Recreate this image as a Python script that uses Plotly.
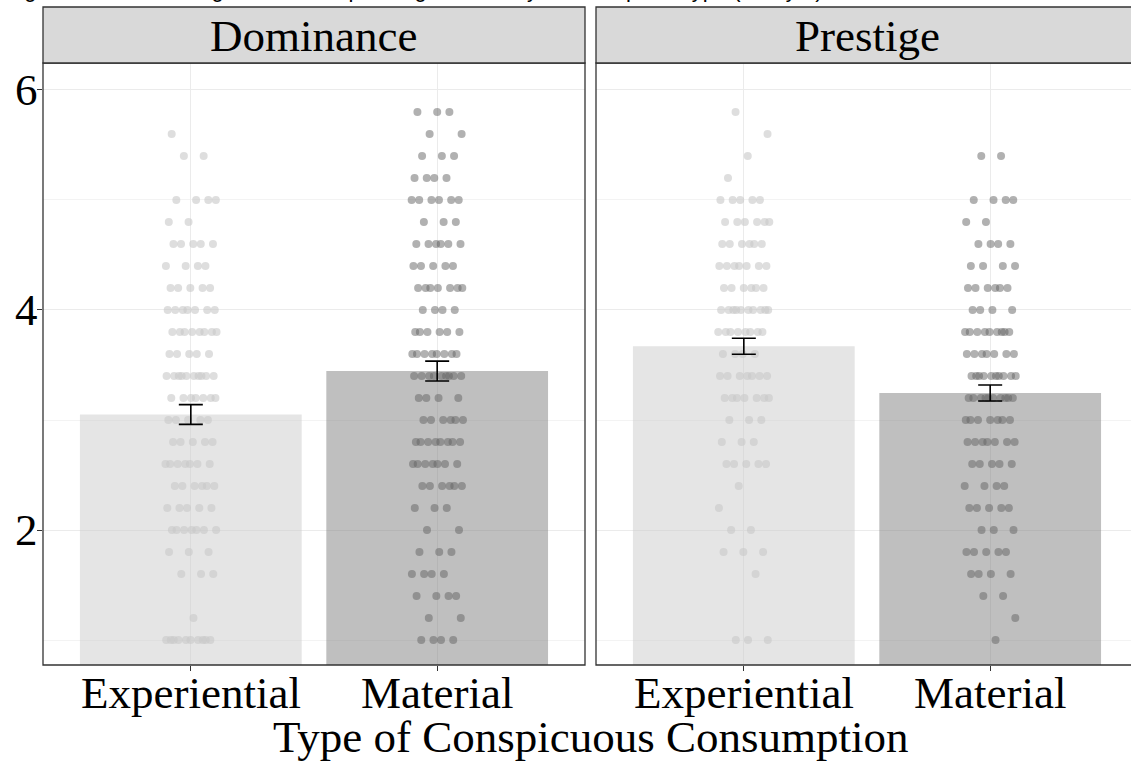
import plotly.graph_objects as go

# Facets and consumption types
facets = ["Dominance", "Prestige"]
types = ["Experiential", "Material"]

# Group means and standard errors (Experiential, Material)
dom_means = [3.05, 3.445]
dom_se = [0.09, 0.09]
pre_means = [3.67, 3.245]
pre_se = [0.073, 0.073]

# Individual scores: score levels and number of respondents at each level
dom_exp_scores = [5.6, 5.4, 5.0, 4.8, 4.6, 4.4, 4.2, 4.0, 3.8, 3.6, 3.4, 3.2, 3.0, 2.8, 2.6, 2.4, 2.2, 2.0, 1.8, 1.6, 1.2, 1.0]
dom_exp_counts = [1, 2, 4, 2, 5, 4, 5, 7, 8, 5, 10, 7, 5, 5, 7, 6, 5, 7, 3, 3, 1, 10]

dom_mat_scores = [5.8, 5.6, 5.4, 5.2, 5.0, 4.8, 4.6, 4.4, 4.2, 4.0, 3.8, 3.6, 3.4, 3.2, 3.0, 2.8, 2.6, 2.4, 2.2, 2.0, 1.8, 1.6, 1.4, 1.2, 1.0]
dom_mat_counts = [3, 2, 3, 4, 6, 3, 6, 5, 7, 4, 6, 8, 9, 4, 6, 8, 7, 6, 3, 2, 3, 4, 4, 2, 4]

pre_exp_scores = [5.8, 5.6, 5.4, 5.2, 5.0, 4.8, 4.6, 4.4, 4.2, 4.0, 3.8, 3.6, 3.4, 3.2, 3.0, 2.8, 2.6, 2.4, 2.2, 2.0, 1.8, 1.6, 1.0]
pre_exp_counts = [1, 1, 1, 1, 5, 6, 6, 7, 6, 10, 8, 4, 7, 7, 3, 3, 5, 1, 1, 2, 3, 1, 3]

pre_mat_scores = [5.4, 5.0, 4.8, 4.6, 4.4, 4.2, 4.0, 3.8, 3.6, 3.4, 3.2, 3.0, 2.8, 2.6, 2.4, 2.2, 2.0, 1.8, 1.6, 1.4, 1.2, 1.0]
pre_mat_counts = [2, 4, 2, 4, 4, 6, 4, 9, 7, 10, 10, 7, 7, 5, 4, 5, 3, 5, 4, 2, 1, 1]

y_ticks = [2, 4, 6]
y_minor = [1, 3, 5]

SERIF = "Liberation Serif, Times New Roman, serif"
W, H = 1131, 768

bar_fill = ["rgba(204,204,204,0.5)", "rgba(127,127,127,0.5)"]
pt_fill = ["rgba(200,200,200,0.6)", "rgba(100,100,100,0.5)"]


def expand(scores, counts, center, phase):
    """Spread the respondents of each score level horizontally around the
    category centre with a deterministic low-discrepancy jitter."""
    xs, ys = [], []
    k = 0
    for s, c in zip(scores, counts):
        for _ in range(c):
            frac = (k * 0.6180339887 + phase) % 1.0
            xs.append(center + 0.105 * (2 * frac - 1))
            ys.append(s)
            k += 1
    return xs, ys


fig = go.Figure()

panels = [
    ("x", "y", dom_means, dom_se,
     [(dom_exp_scores, dom_exp_counts), (dom_mat_scores, dom_mat_counts)]),
    ("x2", "y2", pre_means, pre_se,
     [(pre_exp_scores, pre_exp_counts), (pre_mat_scores, pre_mat_counts)]),
]

# Bars
for xa, ya, means, se, groups in panels:
    fig.add_trace(go.Bar(
        x=[1, 2], y=means, width=0.9, xaxis=xa, yaxis=ya,
        marker=dict(color=bar_fill, line=dict(width=0)),
        showlegend=False, hoverinfo="skip"))

# Jittered individual responses
for pi, (xa, ya, means, se, groups) in enumerate(panels):
    for gi, (scores, counts) in enumerate(groups):
        xs, ys = expand(scores, counts, gi + 1, 0.13 + 0.37 * gi + 0.21 * pi)
        fig.add_trace(go.Scatter(
            x=xs, y=ys, mode="markers", xaxis=xa, yaxis=ya,
            marker=dict(size=8, color=pt_fill[gi], line=dict(width=0)),
            showlegend=False, hoverinfo="skip"))

# Standard error bars on top
for xa, ya, means, se, groups in panels:
    fig.add_trace(go.Scatter(
        x=[1, 2], y=means, mode="markers", xaxis=xa, yaxis=ya,
        marker=dict(size=1, opacity=0),
        error_y=dict(type="data", array=se, visible=True,
                     color="black", thickness=1.6, width=12),
        showlegend=False, hoverinfo="skip"))

px_x = lambda p: p / W
px_y = lambda p: (H - p) / H

left_dom = [px_x(43), px_x(585)]
right_dom = [px_x(596), 1.0]
y_dom = [px_y(665), px_y(63)]
unit_px = (585 - 43) / 2.2

common_x = dict(
    tickmode="array", tickvals=[1, 2], showticklabels=False,
    ticks="outside", ticklen=5, tickwidth=1.1, tickcolor="#333333",
    showgrid=True, gridcolor="#ebebeb", gridwidth=1.1,
    showline=False, zeroline=False, fixedrange=True,
)
common_y = dict(
    range=[0.773, 6.245], tickmode="array", tickvals=y_ticks,
    showticklabels=False, showgrid=True, gridcolor="#ebebeb", gridwidth=1.1,
    minor=dict(tickvals=y_minor, showgrid=True, gridcolor="#f3f3f3",
               gridwidth=0.6, ticks=""),
    zeroline=False, showline=False, fixedrange=True,
)
fig.update_layout(
    xaxis=dict(domain=left_dom, range=[0.4, 2.6], anchor="y", **common_x),
    xaxis2=dict(domain=right_dom, range=[0.4, 0.4 + (W - 596) / unit_px],
                anchor="y2", **common_x),
    yaxis=dict(domain=y_dom, anchor="x", ticks="outside", ticklen=5,
               tickwidth=1.1, tickcolor="#333333", **common_y),
    yaxis2=dict(domain=y_dom, anchor="x2", matches="y", ticks="", **common_y),
    width=W, height=H,
    margin=dict(l=0, r=0, t=0, b=0),
    paper_bgcolor="white", plot_bgcolor="white",
    barmode="overlay", showlegend=False,
)

shapes = []
border = dict(color="#333333", width=1.3)
for x0, x1 in [(px_x(43), px_x(585)), (px_x(596), 1.02)]:
    # panel frame
    shapes.append(dict(type="rect", xref="paper", yref="paper",
                       x0=x0, x1=x1, y0=px_y(665), y1=px_y(63),
                       line=border, fillcolor="rgba(0,0,0,0)", layer="above"))
    # facet strip
    shapes.append(dict(type="rect", xref="paper", yref="paper",
                       x0=x0, x1=x1, y0=px_y(63), y1=px_y(7),
                       line=border, fillcolor="#d9d9d9", layer="above"))
fig.update_layout(shapes=shapes)

big = dict(family=SERIF, size=45, color="black")
annotations = [
    dict(text=facets[0], x=px_x(314), y=px_y(36), xref="paper", yref="paper",
         xanchor="center", yanchor="middle", showarrow=False, font=big),
    dict(text=facets[1], x=px_x(867), y=px_y(36), xref="paper", yref="paper",
         xanchor="center", yanchor="middle", showarrow=False, font=big),
    dict(text="Type of Conspicuous Consumption", x=px_x(591), y=px_y(737),
         xref="paper", yref="paper", xanchor="center", yanchor="middle",
         showarrow=False, font=big),
    dict(text="Figure 2. Mean Ratings of Status Spending Motives by Consumption Type (Study 2)",
         x=px_x(4), y=px_y(4), xref="paper", yref="paper",
         xanchor="left", yanchor="bottom", showarrow=False,
         font=dict(family="Liberation Sans, Arial, sans-serif", size=22, color="black")),
]
# category labels under each panel
for xr in ["x", "x2"]:
    for i, t in enumerate(types):
        annotations.append(dict(text=t, x=i + 1, y=px_y(693), xref=xr, yref="paper",
                                xanchor="center", yanchor="middle",
                                showarrow=False, font=big))
# value labels on the left axis
for v in y_ticks:
    annotations.append(dict(text=str(v), x=px_x(40), y=v, xref="paper", yref="y",
                            xanchor="right", yanchor="middle",
                            showarrow=False, font=big))
fig.update_layout(annotations=annotations)

fig.write_html("out.html")
